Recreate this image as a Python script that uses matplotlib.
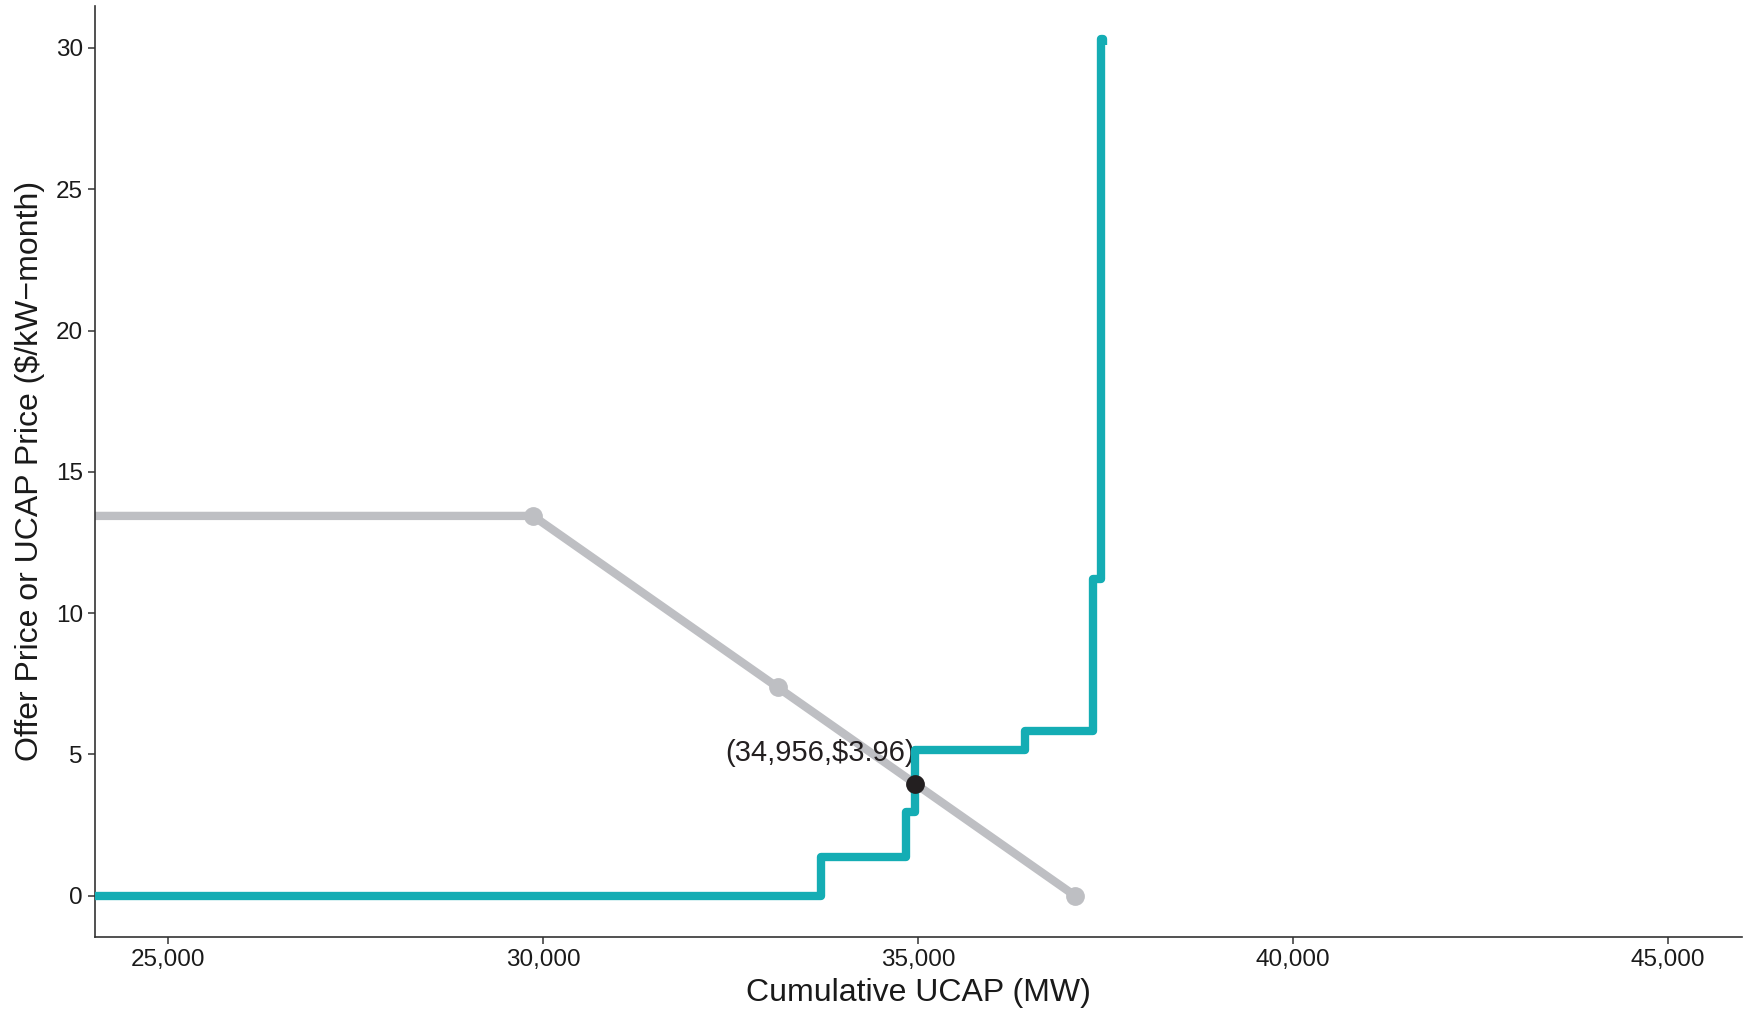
import matplotlib.pyplot as plt
from matplotlib.ticker import FuncFormatter

plt.rcParams['font.family'] = ['Liberation Sans', 'DejaVu Sans']

# demand curve (gray), vertices
demand_mw = [20000, 29866, 33131, 37092]
demand_price = [13.44, 13.44, 7.37, 0.0]

# supply offer curve (teal), step corners
supply_mw = [20000, 33709, 34837, 34955, 36424, 37335, 37440, 37470]
supply_price = [0.0, 1.38, 2.96, 5.16, 5.83, 11.19, 30.3, 30.1]

# clearing point
clear_mw = 34956
clear_price = 3.96
clear_label = "(34,956,$3.96)"

teal = "#14adb4"
gray = "#bebfc3"

fig = plt.figure(figsize=(17.45, 10.16), dpi=100)
ax = fig.add_axes([0.0542, 0.0778, 0.9438, 0.9167])

ax.plot(demand_mw, demand_price, color=gray, lw=6, solid_capstyle='round', zorder=2)
ax.plot(demand_mw[1:], demand_price[1:], 'o', color=gray, ms=12.5, zorder=3)
ax.plot(supply_mw, supply_price, color=teal, lw=6, drawstyle='steps-post',
        solid_joinstyle='round', solid_capstyle='butt', zorder=4)
ax.plot([clear_mw], [clear_price], 'o', color="#231f20", ms=12.5, zorder=5)
ax.text(clear_mw, 5.05, clear_label, ha='right', va='center', fontsize=21, color="#231f20")

ax.set_xlim(24021, 45979)
ax.set_ylim(-1.46, 31.5)
ax.set_xticks([25000, 30000, 35000, 40000, 45000])
ax.set_yticks([0, 5, 10, 15, 20, 25, 30])
ax.xaxis.set_major_formatter(FuncFormatter(lambda v, p: f"{int(v):,}"))

for s in ['top', 'right']:
    ax.spines[s].set_visible(False)
for s in ['left', 'bottom']:
    ax.spines[s].set_color("#333333")
    ax.spines[s].set_linewidth(1.2)
ax.tick_params(axis='both', labelsize=17.5, colors="#333333", length=5, width=1.1,
               labelcolor="#1a1a1a")

ax.set_xlabel("Cumulative UCAP (MW)", fontsize=23, color="#1a1a1a", labelpad=5)
ax.set_ylabel("Offer Price or UCAP Price ($/kW\u2212month)", fontsize=23, color="#1a1a1a", labelpad=8)

fig.savefig("out.png", dpi=100)
